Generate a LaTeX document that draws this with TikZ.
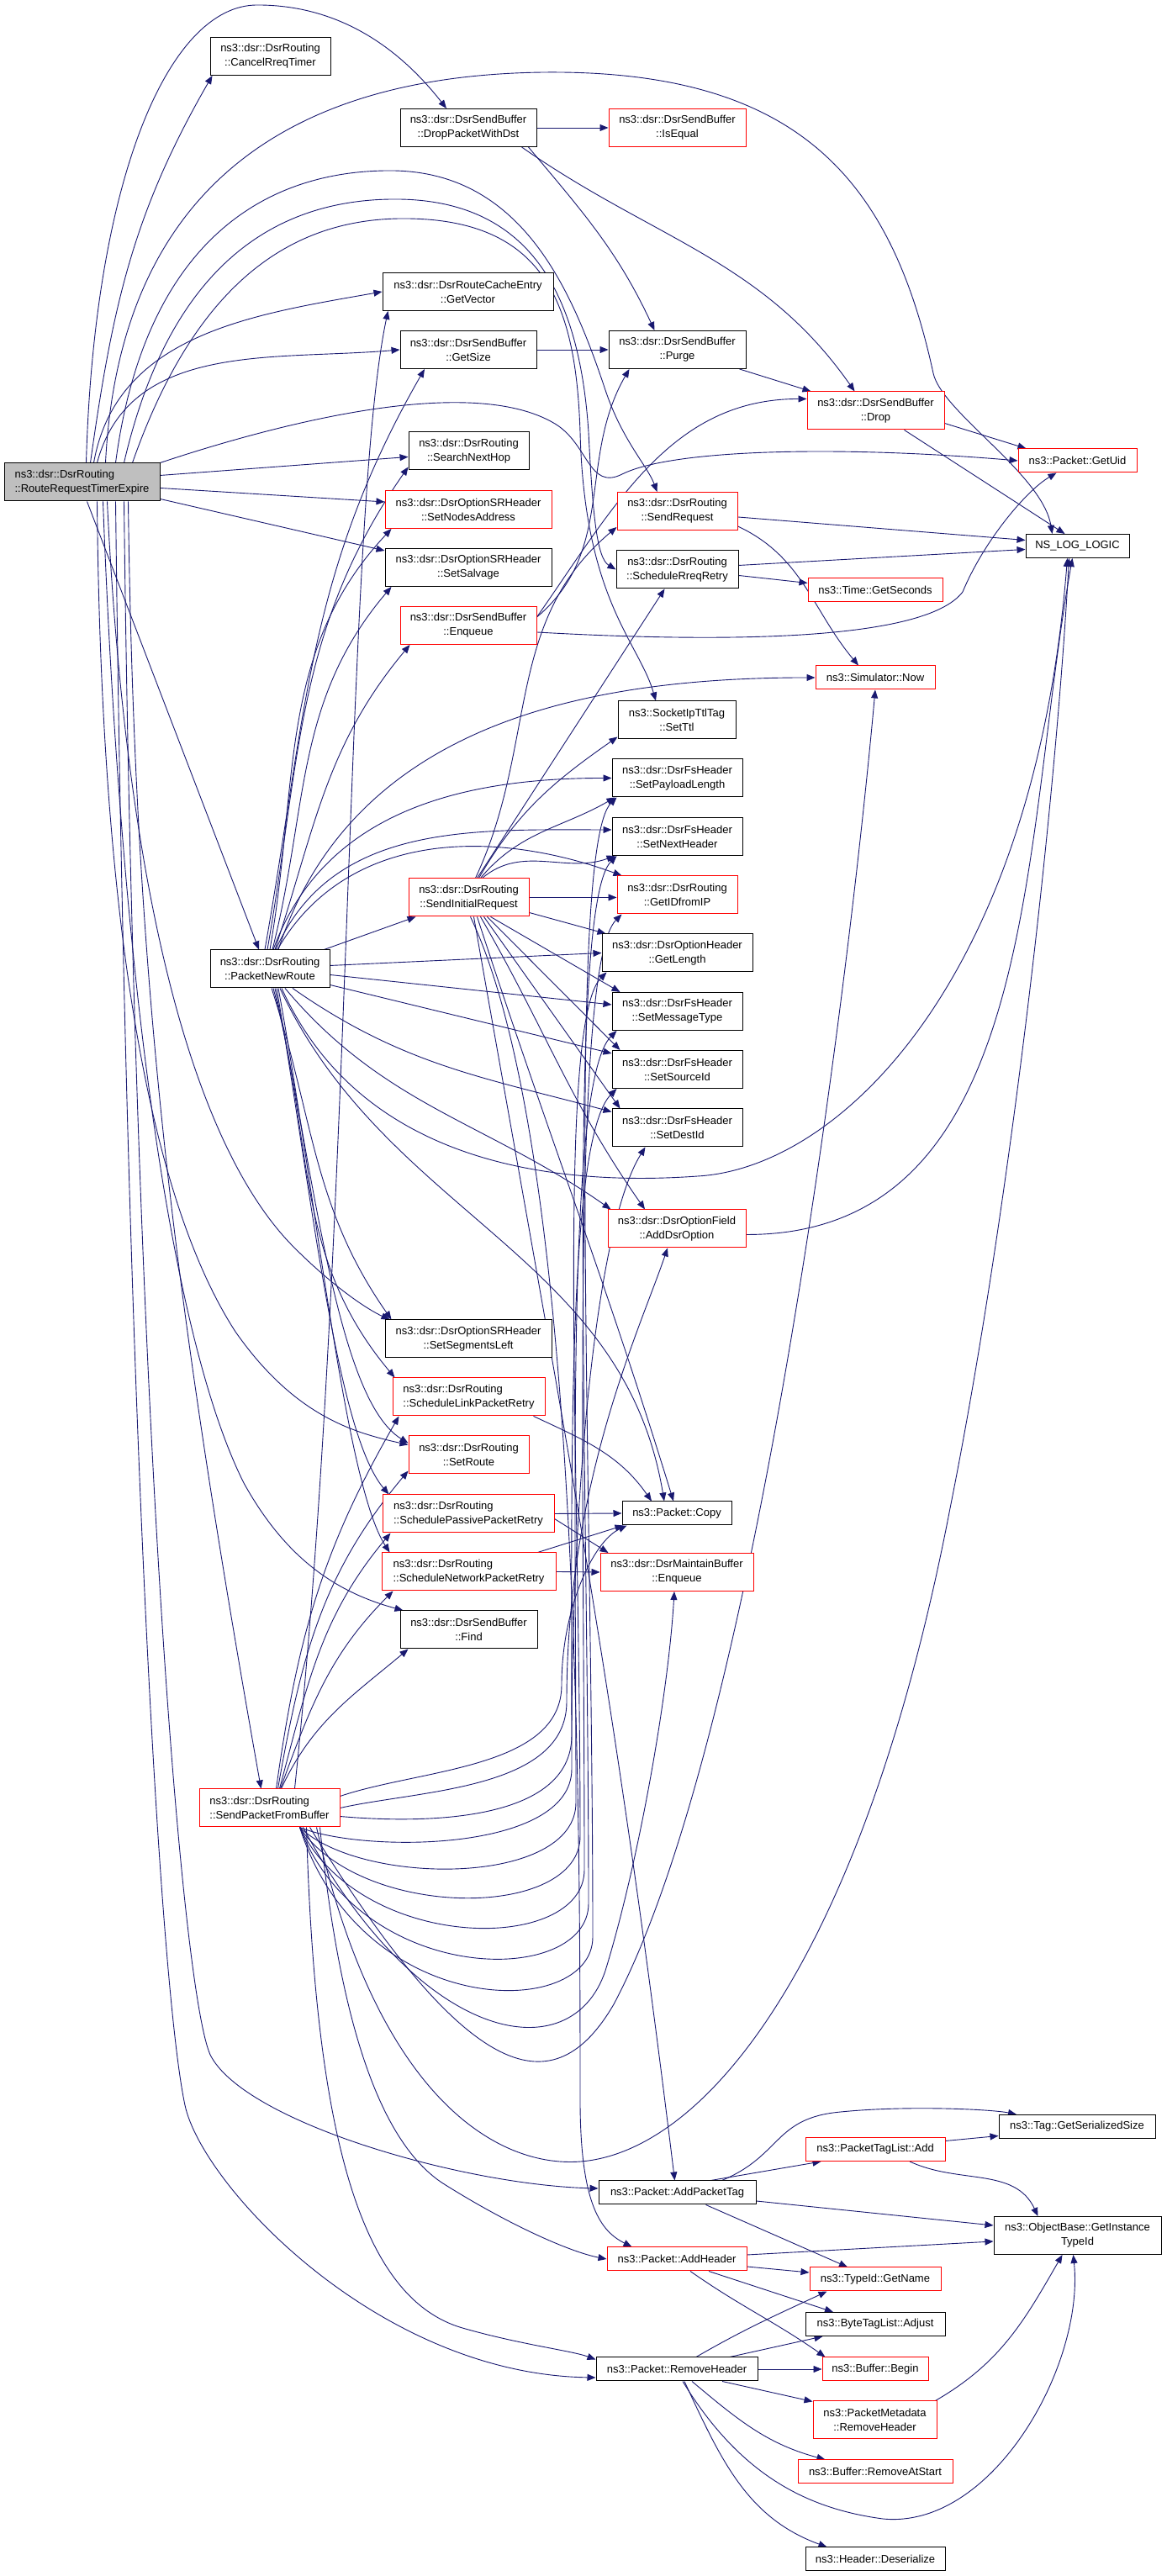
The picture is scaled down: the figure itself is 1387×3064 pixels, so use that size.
\documentclass[tikz,border=0pt]{standalone}
\usepackage{fontspec}
\setmainfont{Liberation Sans}
\usetikzlibrary{arrows.meta,backgrounds}
\definecolor{edgeblue}{HTML}{191970}
\definecolor{rootgray}{HTML}{BFBFBF}
\newcommand{\fnfont}{\fontsize{13}{17}\selectfont}
\tikzset{
  fn/.style={draw=black,line width=1pt,fill=white,font=\fnfont,align=center,
    inner xsep=2pt,inner ysep=0pt,minimum height=45pt},
  fnred/.style={fn,draw=red},
  oneline/.style={minimum height=28pt},
  call/.style={draw=edgeblue,line width=0.9pt,-{Triangle[length=10pt,width=8pt]}},
}
\begin{document}
\begin{tikzpicture}[x=1pt,y=1pt]
\useasboundingbox (0,0) rectangle (1387,3064);
% first column
\node[fn,fill=rootgray,align=left,minimum width=185pt] (root) at (97.5,2490.5) {ns3::dsr::DsrRouting\\::RouteRequestTimerExpire};
% second column
\node[fn,minimum width=143pt] (cancel) at (321.5,2997) {ns3::dsr::DsrRouting\\::CancelRreqTimer};
\node[fn,minimum width=142pt] (pnr) at (321,1911.5) {ns3::dsr::DsrRouting\\::PacketNewRoute};
\node[fnred,align=left,minimum width=167pt] (spfb) at (320.5,913.5) {ns3::dsr::DsrRouting\\::SendPacketFromBuffer};
% third column
\node[fn,minimum width=162pt] (dropdst) at (557,2912) {ns3::dsr::DsrSendBuffer\\::DropPacketWithDst};
\node[fn,minimum width=203pt] (getvector) at (556.5,2717) {ns3::dsr::DsrRouteCacheEntry\\::GetVector};
\node[fn,minimum width=162pt] (getsize) at (557,2648) {ns3::dsr::DsrSendBuffer\\::GetSize};
\node[fn,minimum width=143pt] (snh) at (557.5,2527.5) {ns3::dsr::DsrRouting\\::SearchNextHop};
\node[fnred,minimum width=198pt] (setnodes) at (557,2458) {ns3::dsr::DsrOptionSRHeader\\::SetNodesAddress};
\node[fn,minimum width=198pt] (salvage) at (557,2389) {ns3::dsr::DsrOptionSRHeader\\::SetSalvage};
\node[fnred,minimum width=162pt] (sbenq) at (557,2320) {ns3::dsr::DsrSendBuffer\\::Enqueue};
\node[fnred,minimum width=143pt] (sir) at (557.5,1996.5) {ns3::dsr::DsrRouting\\::SendInitialRequest};
\node[fn,minimum width=198pt] (segleft) at (557,1471.5) {ns3::dsr::DsrOptionSRHeader\\::SetSegmentsLeft};
\node[fnred,align=left,minimum width=181pt] (linkretry) at (557.5,1402.5) {ns3::dsr::DsrRouting\\::ScheduleLinkPacketRetry};
\node[fnred,minimum width=143pt] (setroute) at (557.5,1333.5) {ns3::dsr::DsrRouting\\::SetRoute};
\node[fnred,align=left,minimum width=204pt] (passive) at (557,1263.5) {ns3::dsr::DsrRouting\\::SchedulePassivePacketRetry};
\node[fnred,align=left,minimum width=207pt] (network) at (557.5,1194.5) {ns3::dsr::DsrRouting\\::ScheduleNetworkPacketRetry};
\node[fn,minimum width=163pt] (find) at (557.5,1125.5) {ns3::dsr::DsrSendBuffer\\::Find};
% fourth column
\node[fnred,minimum width=163pt] (isequal) at (805.5,2912) {ns3::dsr::DsrSendBuffer\\::IsEqual};
\node[fn,minimum width=163pt] (purge) at (805.5,2648) {ns3::dsr::DsrSendBuffer\\::Purge};
\node[fnred,minimum width=143pt] (sendreq) at (805.5,2456) {ns3::dsr::DsrRouting\\::SendRequest};
\node[fn,minimum width=145pt] (srr) at (805.5,2386.5) {ns3::dsr::DsrRouting\\::ScheduleRreqRetry};
\node[fn,minimum width=140pt] (setttl) at (805,2207.5) {ns3::SocketIpTtlTag\\::SetTtl};
\node[fn,minimum width=155pt] (paylen) at (805.5,2138.5) {ns3::dsr::DsrFsHeader\\::SetPayloadLength};
\node[fn,minimum width=155pt] (nexthdr) at (805.5,2069) {ns3::dsr::DsrFsHeader\\::SetNextHeader};
\node[fnred,minimum width=143pt] (getid) at (805.5,1999.5) {ns3::dsr::DsrRouting\\::GetIDfromIP};
\node[fn,minimum width=179pt] (getlen) at (805.5,1930.5) {ns3::dsr::DsrOptionHeader\\::GetLength};
\node[fn,minimum width=155pt] (msgtype) at (805.5,1861) {ns3::dsr::DsrFsHeader\\::SetMessageType};
\node[fn,minimum width=155pt] (srcid) at (805.5,1792) {ns3::dsr::DsrFsHeader\\::SetSourceId};
\node[fn,minimum width=155pt] (dstid) at (805.5,1722.5) {ns3::dsr::DsrFsHeader\\::SetDestId};
\node[fnred,minimum width=164pt] (adddsr) at (805,1602.5) {ns3::dsr::DsrOptionField\\::AddDsrOption};
\node[fn,oneline,minimum width=130pt] (copy) at (805,1264) {ns3::Packet::Copy};
\node[fnred,minimum width=182pt] (mbenq) at (805,1194) {ns3::dsr::DsrMaintainBuffer\\::Enqueue};
\node[fn,oneline,minimum width=187pt] (addtag) at (805.5,456) {ns3::Packet::AddPacketTag};
\node[fnred,oneline,minimum width=166pt] (addhdr) at (805,377) {ns3::Packet::AddHeader};
\node[fn,oneline,minimum width=192pt] (remhdr) at (805,246) {ns3::Packet::RemoveHeader};
% fifth column
\node[fnred,minimum width=163pt] (drop) at (1041.5,2575.5) {ns3::dsr::DsrSendBuffer\\::Drop};
\node[fnred,oneline,minimum width=160pt] (getseconds) at (1041,2362.5) {ns3::Time::GetSeconds};
\node[fnred,oneline,minimum width=142pt] (simnow) at (1041,2258) {ns3::Simulator::Now};
\node[fnred,oneline,minimum width=166pt] (tagadd) at (1041,507.5) {ns3::PacketTagList::Add};
\node[fnred,oneline,minimum width=156pt] (getname) at (1041,353) {ns3::TypeId::GetName};
\node[fn,oneline,minimum width=166pt] (adjust) at (1041,299.5) {ns3::ByteTagList::Adjust};
\node[fnred,oneline,minimum width=126pt] (begin) at (1041,246) {ns3::Buffer::Begin};
\node[fnred,minimum width=147pt] (metarem) at (1040.5,185.5) {ns3::PacketMetadata\\::RemoveHeader};
\node[fnred,oneline,minimum width=184pt] (remstart) at (1041,124) {ns3::Buffer::RemoveAtStart};
\node[fn,oneline,minimum width=166pt] (deser) at (1041,20) {ns3::Header::Deserialize};
% sixth column
\node[fnred,oneline,minimum width=141pt] (getuid) at (1281.5,2516) {ns3::Packet::GetUid};
\node[fn,oneline,minimum width=123pt] (nslog) at (1281.5,2414.5) {NS\_LOG\_LOGIC};
\node[fn,oneline,minimum width=186pt] (serial) at (1281,534.5) {ns3::Tag::GetSerializedSize};
\node[fn,minimum width=199pt] (instance) at (1281.5,405) {ns3::ObjectBase::GetInstance\\TypeId};

\begin{scope}[on background layer]
% calls of the root
\draw[call] ([xshift=10pt]root.north) to[out=82,in=240] ([xshift=3pt]cancel.south west);
\draw[call] ([xshift=5pt]root.north) .. controls (112,2850) and (200,3058) .. (306,3058)
  .. controls (410,3058) and (480,3000) .. ([xshift=-26pt]dropdst.north);
\draw[call] ([xshift=28pt]root.north) .. controls (140,2800) and (300,2975) .. (650,2978)
  .. controls (950,2980) and (1060,2850) .. (1110,2620)
  .. controls (1120,2574) and (1240,2500) .. ([xshift=-30pt]nslog.north);
\draw[call] ([xshift=40pt]root.north) .. controls (170,2760) and (300,2861) .. (464,2861)
  .. controls (620,2861) and (680,2720) .. (720,2600)
  .. controls (740,2540) and (770,2510) .. ([xshift=-24pt]sendreq.north);
\draw[call] ([xshift=50pt]root.north) .. controls (200,2740) and (320,2827) .. (470,2827)
  .. controls (640,2827) and (690,2700) .. (700,2550)
  .. controls (705,2450) and (710,2400) .. (srr.west);
\draw[call] ([xshift=60pt]root.north) .. controls (230,2720) and (340,2804) .. (480,2804)
  .. controls (650,2804) and (685,2700) .. (690,2550)
  .. controls (695,2350) and (760,2300) .. ([xshift=-25pt]setttl.north);
\draw[call] (root.north east) .. controls (330,2560) and (560,2620) .. (660,2560)
  .. controls (700,2536) and (700,2480) .. (740,2500)
  .. controls (800,2530) and (1000,2534) .. (getuid.west);
\draw[call] ([xshift=14pt]root.north) to[out=80,in=190] (getvector.west);
\draw[call] ([xshift=18pt]root.north) to[out=75,in=185] (getsize.west);
\draw[call] ([yshift=8pt]root.east) -- ([yshift=-7pt]snh.west);
\draw[call] ([yshift=-7pt]root.east) -- ([yshift=9pt]setnodes.west);
\draw[call] ([yshift=-20pt]root.east) -- ([yshift=-3pt]salvage.north west);
\draw[call] ([xshift=6pt]root.south) -- ([xshift=-13pt]pnr.north);
\draw[call] ([xshift=55pt]root.south) .. controls (160,1900) and (205,1530) .. ([xshift=-10pt]spfb.north);
\draw[call] ([xshift=30pt]root.south) .. controls (150,2000) and (230,1700) .. (350,1580)
  .. controls (400,1530) and (440,1505) .. ([xshift=6pt]segleft.north west);
\draw[call] ([xshift=18pt]root.south) .. controls (120,2000) and (170,1650) .. (280,1480)
  .. controls (350,1380) and (420,1360) .. ([yshift=12pt]setroute.west);
\draw[call] ([xshift=25pt]root.south) .. controls (140,2000) and (190,1500) .. (290,1300)
  .. controls (340,1210) and (400,1170) .. ([xshift=4pt]find.north west);
\draw[call] ([xshift=50pt]root.south) .. controls (160,1400) and (215,700) .. (250,620)
  .. controls (290,540) and (550,465) .. ([yshift=5pt]addtag.west);
\draw[call] ([xshift=40pt]root.south) .. controls (150,1400) and (190,700) .. (220,560)
  .. controls (240,465) and (450,240) .. ([yshift=-10pt]remhdr.west);
% calls of PacketNewRoute
\draw[call] ([xshift=-6pt]pnr.north) .. controls (364,2211) and (365,2382) .. ([xshift=-52pt]getsize.south);
\draw[call] ([xshift=-3pt]pnr.north) .. controls (358,2164) and (352,2317) .. ([yshift=4pt]snh.south west);
\draw[call] (pnr.north) .. controls (356,2135) and (330,2290) .. ([xshift=8pt]setnodes.south west);
\draw[call] ([xshift=3pt]pnr.north) .. controls (367,2105) and (350,2230) .. ([xshift=8pt]salvage.south west);
\draw[call] ([xshift=6pt]pnr.north) .. controls (375,2081) and (388,2178) .. ([xshift=12pt]sbenq.south west);
\draw[call] ([xshift=-7pt]pnr.north east) -- ([xshift=9pt]sir.south west);
\draw[call] ([xshift=10pt]pnr.north) .. controls (418,2200) and (690,2258) .. (simnow.west);
\draw[call] ([xshift=4pt]pnr.north) to[out=70,in=180] (paylen.west);
\draw[call] ([xshift=7pt]pnr.north) to[out=66,in=180] ([yshift=8pt]nexthdr.west);
\draw[call] ([xshift=9pt]pnr.north) to[out=60,in=160] ([xshift=6pt]getid.north west);
\draw[call] ([yshift=4pt]pnr.east) -- (getlen.west);
\draw[call] ([yshift=-7pt]pnr.east) -- ([yshift=8pt]msgtype.west);
\draw[call] ([yshift=-19pt]pnr.east) -- ([yshift=-4pt]srcid.north west);
\draw[call] ([xshift=27pt]pnr.south) to[out=-35,in=165] ([yshift=-4pt]dstid.north west);
\draw[call] ([xshift=18pt]pnr.south) to[out=-50,in=145] ([xshift=4pt]adddsr.north west);
\draw[call] ([xshift=14pt]pnr.south) .. controls (420,1700) and (620,1650) .. (830,1665)
  .. controls (1000,1675) and (1230,1900) .. ([xshift=-12pt]nslog.south);
\draw[call] ([xshift=12pt]pnr.south) .. controls (460,1617) and (741,1573) .. ([xshift=-15pt]copy.north);
\draw[call] ([xshift=2pt]pnr.south) to[out=-72,in=125] ([xshift=8pt]segleft.north west);
\draw[call] ([xshift=4pt]pnr.south) to[out=-75,in=130] ([xshift=3pt]linkretry.north west);
\draw[call] ([xshift=6pt]pnr.south) .. controls (373,1673) and (400,1400) .. ([yshift=14pt]setroute.west);
\draw[call] ([xshift=8pt]pnr.south) .. controls (370,1650) and (400,1360) .. ([xshift=8pt]passive.north west);
\draw[call] ([xshift=10pt]pnr.south) .. controls (375,1650) and (410,1300) .. ([xshift=10pt]network.north west);
% calls of SendInitialRequest
\draw[call] ([xshift=8pt]sir.north) to[out=65,in=220] ([yshift=4pt]sendreq.south west);
\draw[call] ([xshift=10pt]sir.north) -- ([xshift=-15pt]srr.south);
\draw[call] ([xshift=12pt]sir.north) to[out=60,in=215] ([yshift=3pt]setttl.south west);
\draw[call] ([xshift=14pt]sir.north) to[out=50,in=210] ([xshift=4pt]paylen.south west);
\draw[call] ([xshift=16pt]sir.north) to[out=40,in=200] ([xshift=4pt]nexthdr.south west);
\draw[call] (sir.east) -- ([yshift=-3pt]getid.west);
\draw[call] ([yshift=-18pt]sir.east) -- ([xshift=5pt]getlen.north west);
\draw[call] ([xshift=26pt]sir.south) -- ([xshift=10pt]msgtype.north west);
\draw[call] ([xshift=22pt]sir.south) -- ([xshift=10pt]srcid.north west);
\draw[call] ([xshift=18pt]sir.south) -- ([xshift=10pt]dstid.north west);
\draw[call] ([xshift=14pt]sir.south) to[out=-60,in=125] ([xshift=-38pt]adddsr.north);
\draw[call] ([xshift=10pt]sir.south) .. controls (656,1702) and (716,1554) .. ([xshift=-4pt]copy.north);
\draw[call] ([xshift=6pt]sir.south) .. controls (666,1390) and (730,1067) .. ([xshift=-3pt]addtag.north);
\draw[call] ([xshift=2pt]sir.south) .. controls (690,1700) and (690,900) .. (690,560)
  .. controls (691,440) and (715,410) .. ([xshift=30pt]addhdr.north west);
% calls of SendPacketFromBuffer
\draw[call] ([xshift=30pt]spfb.north) .. controls (420,1600) and (410,2450) .. ([xshift=7pt]getvector.south west);
\draw[call] ([xshift=10pt]spfb.north) to[out=80,in=230] ([yshift=4pt]setroute.south west);
\draw[call] ([xshift=14pt]spfb.north) to[out=65,in=220] ([xshift=10pt]find.south west);
\draw[call] ([xshift=8pt]spfb.north) to[out=82,in=240] ([xshift=8pt]linkretry.south west);
\draw[call] ([xshift=12pt]spfb.north) to[out=75,in=230] ([xshift=10pt]passive.south west);
\draw[call] ([xshift=13pt]spfb.north) to[out=70,in=225] ([xshift=14pt]network.south west);
\draw[call] ([yshift=14pt]spfb.east) .. controls (500,960) and (668,960) .. (668,1060)
  .. controls (668,1150) and (705,1230) .. ([xshift=6pt]copy.south west);
\foreach \tgt/\dip/\xt in {paylen/660/710,nexthdr/700/705,getid/740/700,getlen/780/695,msgtype/820/690,srcid/860/685}
  \draw[call] ([xshift=36pt]spfb.south) .. controls (430,\dip) and (\xt-5,\dip) .. (\xt-5,\dip+100)
    .. controls (\xt-5,1300) and +(-60,-60) .. ([xshift=6pt]\tgt.south west);
\draw[call] ([yshift=-10pt]spfb.east) .. controls (500,895) and (680,895) .. (680,1000)
  .. controls (680,1250) and (705,1600) .. ([xshift=-38pt]dstid.south);
\draw[call] (spfb.east) .. controls (500,935) and (674,935) .. (674,1040)
  .. controls (674,1300) and (760,1480) .. ([xshift=-11pt]adddsr.south);
\draw[call] ([xshift=40pt]spfb.south) .. controls (500,630) and (680,600) .. (720,720)
  .. controls (760,850) and (795,1050) .. ([xshift=-3pt]mbenq.south);
\draw[call] ([xshift=48pt]spfb.south) .. controls (560,580) and (660,560) .. (730,680)
  .. controls (900,1000) and (1010,1900) .. (simnow.south);
\draw[call] ([xshift=56pt]spfb.south) .. controls (450,560) and (600,480) .. (700,494)
  .. controls (850,515) and (1030,750) .. (1130,1270)
  .. controls (1200,1620) and (1255,2100) .. ([xshift=-10pt]nslog.south);
\draw[call] ([xshift=60pt]spfb.south) .. controls (400,700) and (440,520) .. (530,465)
  .. controls (610,415) and (680,385) .. (addhdr.west);
\draw[call] ([xshift=44pt]spfb.south) .. controls (375,520) and (430,330) .. (550,295)
  .. controls (620,275) and (680,268) .. ([yshift=-3pt]remhdr.north west);
% send buffer
\draw[call] (dropdst.east) -- (isequal.west);
\draw[call] ([xshift=-10pt]dropdst.south east) to[out=-50,in=115] ([xshift=-27pt]purge.north);
\draw[call] ([xshift=-18pt]dropdst.south east) to[out=-35,in=125] ([xshift=-25pt]drop.north);
\draw[call] (getsize.east) -- (purge.west);
\draw[call] ([xshift=-8pt]purge.south east) -- ([xshift=5pt]drop.north west);
\draw[call] ([yshift=8pt]drop.south east) -- ([xshift=10pt]getuid.north west);
\draw[call] ([xshift=-48pt]drop.south east) -- ([xshift=-15pt]nslog.north);
\draw[call] ([yshift=10pt]sbenq.east) to[out=40,in=240] ([xshift=-57pt]purge.south);
\draw[call] ([yshift=10pt]sbenq.east) to[out=55,in=180] ([yshift=14pt]drop.west);
\draw[call] ([yshift=-8pt]sbenq.east) .. controls (850,2300) and (1100,2300) .. (1145,2360)
  .. controls (1170,2420) and (1220,2480) .. ([xshift=-25pt]getuid.south);
% route request
\draw[call] ([yshift=-7pt]sendreq.east) -- ([yshift=7pt]nslog.west);
\draw[call] ([yshift=5pt]sendreq.south east) to[out=-25,in=130] ([xshift=-20pt]simnow.north);
\draw[call] ([yshift=5pt]srr.east) -- ([yshift=-4pt]nslog.west);
\draw[call] ([yshift=-7pt]srr.east) -- ([yshift=8pt]getseconds.west);
\draw[call] ([yshift=-7pt]adddsr.east) .. controls (1236,1595) and (1214,2056) .. ([xshift=-6pt]nslog.south);
% retries
\draw[call] (passive.east) -- (copy.west);
\draw[call] ([yshift=-6pt]passive.east) -- ([xshift=10pt]mbenq.north west);
\draw[call] ([xshift=-14pt]linkretry.south east) to[out=-25,in=125] ([xshift=-30pt]copy.north);
\draw[call] ([xshift=-22pt]network.north east) -- ([xshift=2pt]copy.south west);
\draw[call] (network.east) -- (mbenq.west);
% packet
\draw[call] ([xshift=53pt]addtag.north) .. controls (930,500) and (920,545) .. (1000,552)
  .. controls (1080,560) and (1180,555) .. ([xshift=-72pt]serial.north);
\draw[call] ([xshift=40pt]addtag.north) -- ([xshift=19pt]tagadd.south west);
\draw[call] ([yshift=-10pt]addtag.east) -- ([yshift=12pt]instance.west);
\draw[call] ([xshift=34pt]addtag.south) -- ([xshift=-33pt]getname.north);
\draw[call] ([yshift=10pt]tagadd.east) -- ([yshift=-11pt]serial.west);
\draw[call] ([xshift=41pt]tagadd.south) to[out=-25,in=115] ([xshift=-47pt]instance.north);
\draw[call] ([yshift=5pt]addhdr.east) -- ([yshift=-7pt]instance.west);
\draw[call] ([yshift=-9pt]addhdr.east) -- ([yshift=8pt]getname.west);
\draw[call] ([xshift=38pt]addhdr.south) -- ([xshift=-50pt]adjust.north);
\draw[call] ([xshift=16pt]addhdr.south) to[out=-35,in=145] ([xshift=4pt]begin.north west);
\draw[call] ([xshift=23pt]remhdr.north) to[out=30,in=205] ([xshift=21pt]getname.south west);
\draw[call] ([xshift=63pt]remhdr.north) -- ([xshift=21pt]adjust.south west);
\draw[call] (remhdr.east) -- (begin.west);
\draw[call] ([xshift=54pt]remhdr.south) -- ([yshift=-1pt]metarem.north west);
\draw[call] ([xshift=18pt]remhdr.south) to[out=-40,in=165] ([xshift=33pt]remstart.north west);
\draw[call] ([xshift=9pt]remhdr.south) to[out=-65,in=160] ([xshift=26pt]deser.north west);
\draw[call] ([xshift=7pt]remhdr.south) .. controls (880,120) and (960,80) .. (1050,68)
  .. controls (1180,55) and (1290,250) .. ([xshift=-5pt]instance.south);
\draw[call] ([xshift=-2pt]metarem.north east) to[out=30,in=240] ([xshift=-18pt]instance.south);
\end{scope}
\end{tikzpicture}
\end{document}
